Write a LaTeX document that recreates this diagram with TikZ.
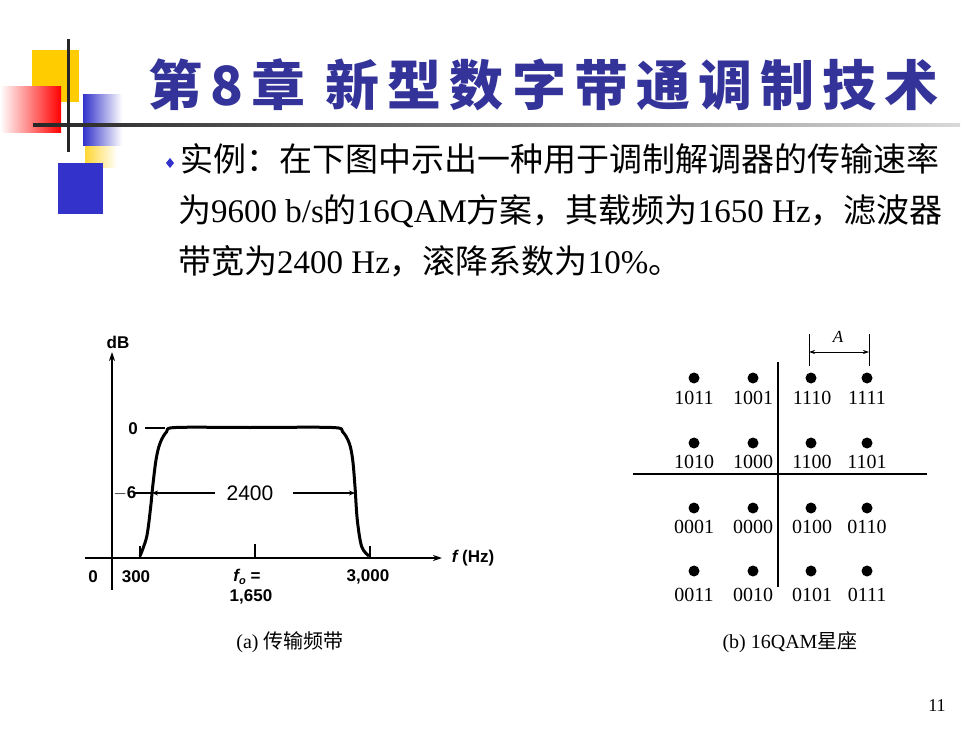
\documentclass[tikz,border=0pt]{standalone}
\usepackage{fontspec}
\setmainfont{Liberation Serif}
\setsansfont{Liberation Sans}
\newfontfamily\cjk{Noto Sans CJK SC}
\newfontfamily\titlefont[LetterSpace=15]{Noto Sans CJK SC}
\usetikzlibrary{arrows.meta}
\definecolor{titleblue}{RGB}{51,51,153}
\definecolor{boxblue}{RGB}{51,51,204}
\definecolor{boxyellow}{RGB}{255,204,0}
\tikzset{
  body/.style={anchor=base west, inner sep=0pt, font=\fontsize{33}{38}\selectfont},
  glab/.style={inner sep=0pt, font=\sffamily\bfseries\fontsize{17}{19}\selectfont},
  axis/.style={line width=2pt},
  qdot/.style={circle, fill=black, inner sep=0pt, minimum size=11pt},
  qlab/.style={inner sep=0pt, font=\fontsize{20}{22}\selectfont},
  captext/.style={inner sep=0pt, font=\fontsize{20}{22}\selectfont},
}
\begin{document}
\begin{tikzpicture}[x=1pt,y=-1pt]
\useasboundingbox (0,0) rectangle (980,735);
\fill[white] (0,0) rectangle (980,735);
% decoration
\fill[boxyellow] (32,50) rectangle (79,102);
\shade[left color=white, right color=red] (0,87) rectangle (61,133);
\shade[left color=boxyellow!80, right color=white] (85,146) rectangle (117,168);
\shade[left color=boxblue, right color=white] (83,95) rectangle (122,146);
\fill[boxblue] (58,163) rectangle (103,214);
\shade[left color=black!85, right color=black!15] (33,123.5) rectangle (960,126.5);
\fill[black!85] (66.5,39) rectangle (69.5,152);
% title
\node[anchor=west, inner sep=0pt, text=titleblue, font=\titlefont\bfseries\fontsize{54}{60}\selectfont] (title) at (148,85) {第8章 新型数字带通调制技术};
% bullet
\fill[boxblue] (170,158) -- (174,163) -- (170,168) -- (166,163) -- cycle;
\node[body] (l1) at (180,172) {{\cjk 实例：在下图中示出一种用于调制解调器的传输速率}};
\node[body] (l2) at (178,223) {{\cjk 为}9600 b/s{\cjk 的}16QAM{\cjk 方案，其载频为}1650 Hz{\cjk ，滤波器}};
\node[body] (l3) at (178,274) {{\cjk 带宽为}2400 Hz{\cjk ，滚降系数为}10\%{\cjk 。}};
% left graph
\coordinate (yb) at (112,590);
\coordinate (yt) at (112,352);
\coordinate (xl) at (85,558);
\coordinate (xr) at (442,558);
\draw[axis, -{Stealth[length=9pt,width=6pt]}] (yb) -- (yt);
\draw[axis, -{Stealth[length=9pt,width=6pt]}] (xl) -- (xr);
\node[glab] (dB) at (118,342) {dB};
\node[glab] (fhz) at (473,558) {{\itshape f} (Hz)};
\node[glab] (o0) at (93,577) {0};
\node[glab] (l300) at (136,577) {300};
\node[glab] (l3000) at (368,577) {3,000};
\node[glab] (lf0) at (247,577) {{\itshape f}\raisebox{-3pt}{\fontsize{11}{11}\selectfont\itshape o} =};
\node[glab] (l1650) at (251,597) {1,650};
\node[glab] (y0) at (133,429) {0};
\node[glab] (y6) at (125,493) {$-$6};
\draw[line width=1.2pt] (145,428) -- (165,428);
\draw[line width=1.2pt] (140,546) -- (140,558);
\draw[line width=1.2pt] (255,544) -- (255,558);
\draw[line width=1.2pt] (370,546) -- (370,558);
\draw[line width=3pt, line join=round] plot[smooth, tension=0.55] coordinates {
 (140,556) (146.7,536.7) (150.7,506.7) (152.7,486.7) (156,460) (160,443.3) (166.7,431.7) (176,427.5)
 (250,427.5)
 (332,427.5) (342.5,431.7) (349.3,443.3) (352.7,460) (355,486.7) (357.3,520) (361.7,546.7) (369,556)};
\node[inner sep=0pt, font=\sffamily\fontsize{21}{23}\selectfont] (bw) at (250,493) {2400};
\coordinate (bwl) at (152,493);
\coordinate (bwr) at (355,493);
\draw[line width=1.3pt, -{Stealth[length=6pt,width=5pt]}] (215,493) -- (bwl);
\draw[line width=1.3pt, -{Stealth[length=6pt,width=5pt]}] (293,493) -- (bwr);
\draw[line width=1.2pt] (134,493) -- (bwl);
% constellation
\draw[line width=2.2pt] (778,362) -- (778,587);
\draw[line width=2.2pt] (633,474) -- (927,474);
\foreach \r/\y/\ly/\a/\b/\c/\d in {1/378/398/1011/1001/1110/1111, 2/443/462/1010/1000/1100/1101, 3/508/527/0001/0000/0100/0110, 4/571/595/0011/0010/0101/0111}{
  \node[qdot] (d\r a) at (694,\y) {};
  \node[qdot] (d\r b) at (753,\y) {};
  \node[qdot] (d\r c) at (811,\y) {};
  \node[qdot] (d\r d) at (867,\y) {};
  \node[qlab] (t\r a) at (694,\ly) {\a};
  \node[qlab] (t\r b) at (753,\ly) {\b};
  \node[qlab] (t\r c) at (812,\ly) {\c};
  \node[qlab] (t\r d) at (867,\ly) {\d};
}
\coordinate (al) at (809,352);
\coordinate (ar) at (869,352);
\draw[line width=0.8pt] (809,334) -- (809,366);
\draw[line width=0.8pt] (869,334) -- (869,366);
\draw[line width=0.8pt, {Stealth[length=6pt,width=4pt]}-{Stealth[length=6pt,width=4pt]}] (al) -- (ar);
\node[inner sep=0pt, font=\itshape\fontsize{17}{19}\selectfont] (A) at (838,337) {A};
% captions
\node[captext] (capa) at (290,642) {(a) {\cjk 传输频带}};
\node[captext] (capb) at (790,642) {(b) 16QAM{\cjk 星座}};
\node[inner sep=0pt, font=\fontsize{18}{20}\selectfont] (pg) at (937,706) {11};
\end{tikzpicture}
\end{document}
